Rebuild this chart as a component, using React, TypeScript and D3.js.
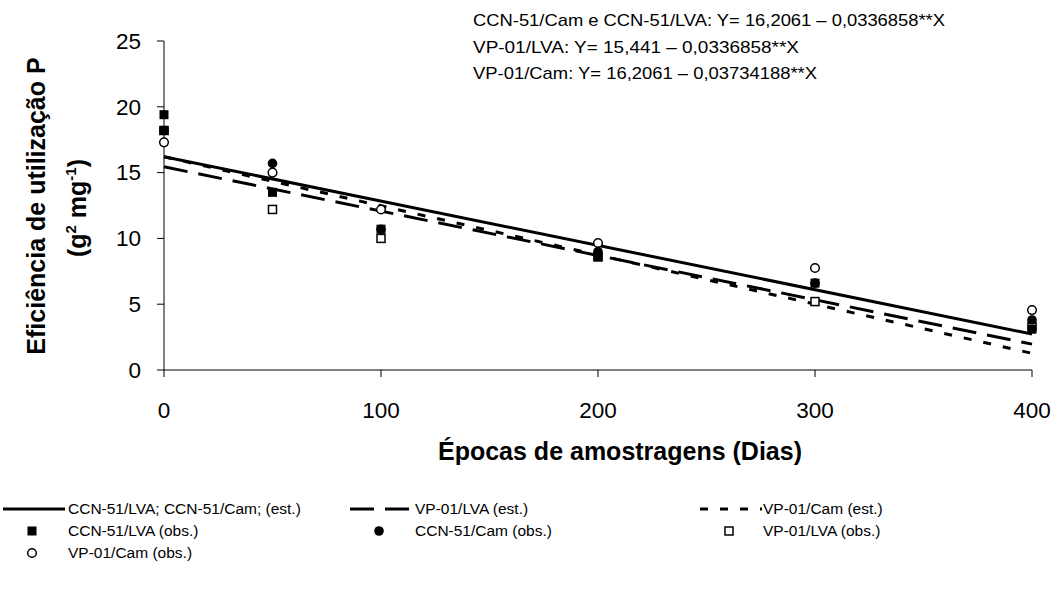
import React from "react";
import * as d3 from "d3";

// Sampling days (x) and observed P-use efficiency (g² mg⁻¹) per clone/soil
const ccn51LvaDays = [0, 0, 50, 100, 200, 300, 400];
const ccn51LvaObs = [19.4, 18.2, 13.5, 10.7, 8.6, 6.6, 3.1];

const ccn51CamDays = [0, 50, 100, 200, 300, 400];
const ccn51CamObs = [18.2, 15.7, 10.7, 9.0, 6.6, 3.8];

const vp01LvaDays = [0, 50, 100, 200, 300, 400];
const vp01LvaObs = [18.2, 12.2, 10.0, 8.6, 5.2, 3.3];

const vp01CamDays = [0, 50, 100, 200, 300, 400];
const vp01CamObs = [17.3, 15.0, 12.2, 9.65, 7.75, 4.55];

// Fitted linear models Y = a - b·X
const fitNames = ["CCN-51/LVA; CCN-51/Cam; (est.)", "VP-01/LVA (est.)", "VP-01/Cam (est.)"];
const fitIntercepts = [16.2061, 15.441, 16.2061];
const fitSlopes = [0.0336858, 0.0336858, 0.03734188];

const equationTexts = [
  "CCN-51/Cam e CCN-51/LVA: Y= 16,2061 – 0,0336858**X",
  "VP-01/LVA: Y= 15,441 – 0,0336858**X",
  "VP-01/Cam: Y= 16,2061 – 0,03734188**X",
];

const xTicks = [0, 100, 200, 300, 400];
const yTicks = [0, 5, 10, 15, 20, 25];

const W = 1061;
const H = 595;
const FONT = "'Liberation Sans', Arial, sans-serif";

const x = d3.scaleLinear().domain([0, 400]).range([164, 1032]);
const y = d3.scaleLinear().domain([0, 25]).range([370, 41]);

const dashes = [null, "24,11", "8,12"];

function Marker({ kind, cx, cy }: { kind: string; cx: number; cy: number }) {
  if (kind === "fsq") return <rect x={cx - 4.5} y={cy - 4.5} width={9} height={9} fill="#000" />;
  if (kind === "osq")
    return <rect x={cx - 4} y={cy - 4} width={8} height={8} fill="#fff" stroke="#000" strokeWidth={1.5} />;
  if (kind === "fci") return <circle cx={cx} cy={cy} r={4.8} fill="#000" />;
  return <circle cx={cx} cy={cy} r={4.3} fill="#fff" stroke="#000" strokeWidth={1.5} />;
}

export default function App() {
  const fitLine = (i: number) => {
    const gen = d3
      .line<number>()
      .x((d) => x(d))
      .y((d) => y(fitIntercepts[i] - fitSlopes[i] * d));
    return gen([0, 400]) as string;
  };

  // drawn back to front: open markers first, filled on top
  const obsSeries = [
    { kind: "osq", days: vp01LvaDays, vals: vp01LvaObs },
    { kind: "oci", days: vp01CamDays, vals: vp01CamObs },
    { kind: "fci", days: ccn51CamDays, vals: ccn51CamObs },
    { kind: "fsq", days: ccn51LvaDays, vals: ccn51LvaObs },
  ];

  const legendRows = [
    [
      { type: "line", i: 0, lx: 3, tx: 68 },
      { type: "line", i: 1, lx: 350, tx: 415 },
      { type: "line", i: 2, lx: 700, tx: 763 },
    ],
    [
      { type: "mark", kind: "fsq", label: "CCN-51/LVA (obs.)", lx: 3, tx: 68 },
      { type: "mark", kind: "fci", label: "CCN-51/Cam (obs.)", lx: 350, tx: 415 },
      { type: "mark", kind: "osq", label: "VP-01/LVA (obs.)", lx: 700, tx: 763 },
    ],
    [{ type: "mark", kind: "oci", label: "VP-01/Cam (obs.)", lx: 3, tx: 68 }],
  ];
  const rowY = [509, 531, 553];

  return (
    <svg
      width={W}
      height={H}
      style={{ position: "absolute", left: 0, top: 0, background: "#fff" }}
      fontFamily={FONT}
    >
      <rect width={W} height={H} fill="#fff" />

      {/* axes */}
      <line x1={x(0)} x2={x(0)} y1={y(25)} y2={y(0)} stroke="#000" strokeWidth={1} />
      <line x1={x(0)} x2={x(400)} y1={y(0)} y2={y(0)} stroke="#000" strokeWidth={1} />
      {yTicks.map((t) => (
        <g key={"y" + t}>
          <line x1={x(0) - 7} x2={x(0)} y1={y(t)} y2={y(t)} stroke="#000" />
          <text x={141} y={y(t)} dy="0.35em" textAnchor="end" fontSize={22.5}>
            {t}
          </text>
        </g>
      ))}
      {xTicks.map((t) => (
        <g key={"x" + t}>
          <line x1={x(t)} x2={x(t)} y1={y(0)} y2={y(0) + 7} stroke="#000" />
          <text x={x(t)} y={418} textAnchor="middle" fontSize={22.5}>
            {t}
          </text>
        </g>
      ))}

      {/* axis titles */}
      <text x={620} y={460} textAnchor="middle" fontSize={25} fontWeight="bold">
        Épocas de amostragens (Dias)
      </text>
      <g transform="translate(45,206) rotate(-90)">
        <text textAnchor="middle" fontSize={25} fontWeight="bold">
          Eficiência de utilização P
        </text>
      </g>
      <g transform="translate(86,208) rotate(-90)">
        <text textAnchor="middle" fontSize={25} fontWeight="bold">
          (g
          <tspan fontSize={15} dy={-10}>
            2
          </tspan>
          <tspan dy={10}> mg</tspan>
          <tspan fontSize={15} dy={-10}>
            -1
          </tspan>
          <tspan dy={10}>)</tspan>
        </text>
      </g>

      {/* fitted lines */}
      {fitIntercepts.map((_, i) => (
        <path
          key={"f" + i}
          d={fitLine(i)}
          fill="none"
          stroke="#000"
          strokeWidth={3}
          strokeDasharray={dashes[i] ?? undefined}
        />
      ))}

      {/* observations */}
      {obsSeries.map((s) =>
        s.days.map((d, j) => <Marker key={s.kind + j} kind={s.kind} cx={x(d)} cy={y(s.vals[j])} />)
      )}

      {/* equations */}
      {equationTexts.map((t, i) => (
        <text
          key={"e" + i}
          x={473}
          y={26 + i * 26.5}
          fontSize={17}
          textLength={[472, 326, 344][i]}
          lengthAdjust="spacingAndGlyphs"
        >
          {t}
        </text>
      ))}

      {/* legend */}
      {legendRows.map((row, r) =>
        row.map((it: any, k) => (
          <g key={"l" + r + k}>
            {it.type === "line" ? (
              <line
                x1={it.lx}
                x2={it.lx + 62}
                y1={rowY[r]}
                y2={rowY[r]}
                stroke="#000"
                strokeWidth={3}
                strokeDasharray={dashes[it.i] ?? undefined}
              />
            ) : (
              <Marker kind={it.kind} cx={it.lx + 29} cy={rowY[r]} />
            )}
            <text x={it.tx} y={rowY[r]} dy="0.35em" fontSize={15.5}>
              {it.type === "line" ? fitNames[it.i] : it.label}
            </text>
          </g>
        ))
      )}
    </svg>
  );
}
